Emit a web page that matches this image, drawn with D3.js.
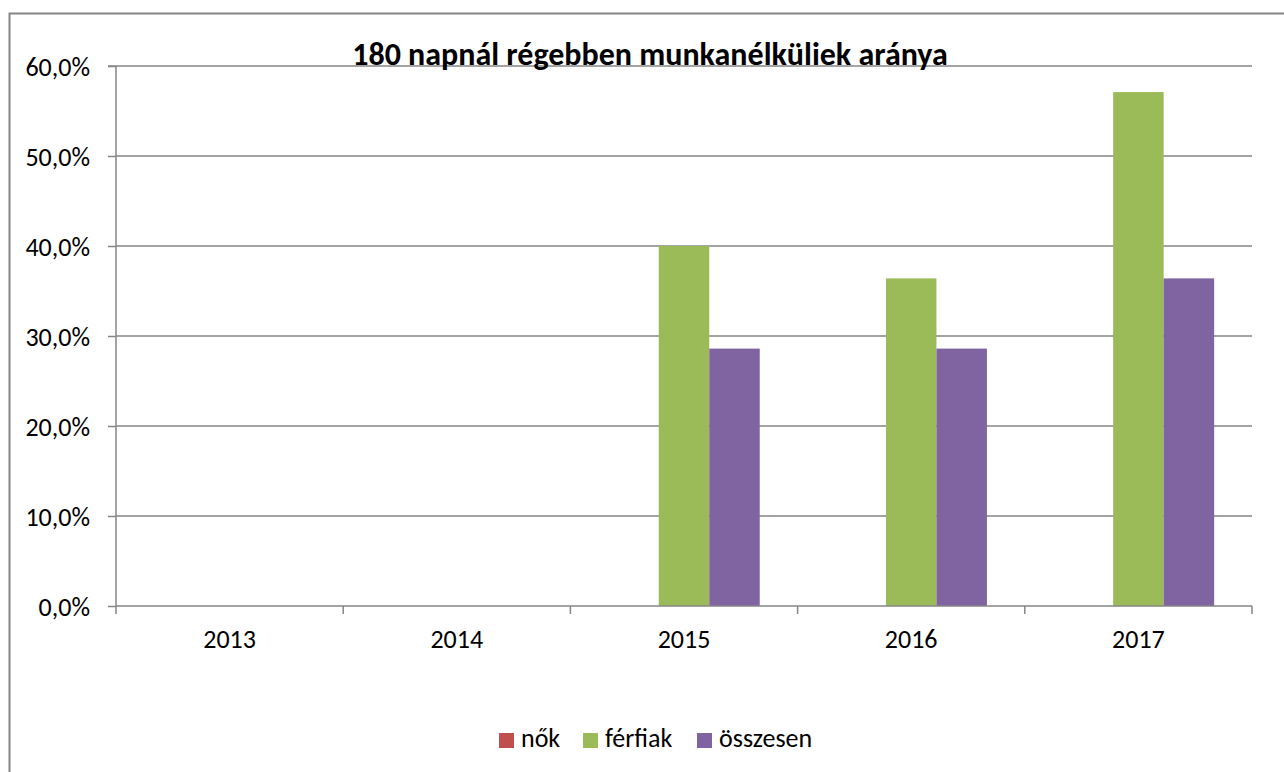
<!DOCTYPE html>
<html>
<head>
<meta charset="utf-8">
<script src="https://cdn.jsdelivr.net/npm/d3@7"></script>
<style>
  body { margin: 0; background: #fff; }
  text { font-family: Carlito, "Open Sans", "Liberation Sans", sans-serif; }
</style>
</head>
<body>
<script>
// chart data
const years = ["2013", "2014", "2015", "2016", "2017"];
const seriesNames = ["nők", "férfiak", "összesen"];
const nok = [0, 0, 0, 0, 0];
const ferfiak = [0, 0, 0.400, 0.364, 0.571];
const osszesen = [0, 0, 0.286, 0.286, 0.364];
const yTicks = [0, 0.1, 0.2, 0.3, 0.4, 0.5, 0.6];
const colors = ["#c0504d", "#9bbb59", "#8064a2"];
const title = "180 napnál régebben munkanélküliek aránya";

let width = 1284,
  height = 772;

let margin = { left: 116, right: 32, top: 66, bottom: 166 };
let fontStack = "Carlito, 'Open Sans', 'Liberation Sans', sans-serif";

window.onload = function () {
  let svg = d3.select("body")
    .append("svg")
    .attr("width", width)
    .attr("height", height);

  // outer chart border
  svg.append("rect")
    .attr("x", 9.5)
    .attr("y", 13.5)
    .attr("width", 1290)
    .attr("height", 780)
    .attr("fill", "none")
    .attr("stroke", "#868686")
    .attr("stroke-width", 2);

  let x = d3.scaleBand()
    .domain(years)
    .range([margin.left, width - margin.right]);

  // 150% gap width, like the spreadsheet default
  let x1 = d3.scaleBand()
    .domain(seriesNames)
    .range([0, x.bandwidth()])
    .paddingInner(0)
    .paddingOuter(0.75);

  let y = d3.scaleLinear()
    .domain([0, 0.6])
    .range([height - margin.bottom, margin.top]);

  // gridlines
  svg.append("g")
    .selectAll("line")
    .data(yTicks.slice(1))
    .join("line")
    .attr("x1", margin.left)
    .attr("x2", width - margin.right)
    .attr("y1", d => y(d))
    .attr("y2", d => y(d))
    .attr("stroke", "#868686")
    .attr("stroke-width", 1.5);

  // bars
  let table = years.map((yr, i) => ({ year: yr, values: [nok[i], ferfiak[i], osszesen[i]] }));
  svg.append("g")
    .selectAll("g")
    .data(table)
    .join("g")
    .attr("transform", d => `translate(${x(d.year)},0)`)
    .selectAll("rect")
    .data(d => d.values.map((v, j) => ({ key: seriesNames[j], value: v, color: colors[j] })))
    .join("rect")
    .attr("x", d => x1(d.key))
    .attr("width", x1.bandwidth())
    .attr("y", d => y(d.value))
    .attr("height", d => y(0) - y(d.value))
    .attr("fill", d => d.color);

  // y axis
  let fmt = d => d3.format(".1f")(d * 100).replace(".", ",") + "%";
  let yAxis = svg.append("g")
    .attr("transform", `translate(${margin.left},0)`)
    .call(d3.axisLeft(y).tickValues(yTicks).tickFormat(fmt).tickSize(8).tickPadding(18));
  yAxis.selectAll("line, path").attr("stroke", "#868686").attr("stroke-width", 1.5);
  yAxis.selectAll("text").attr("font-size", 26).attr("fill", "#000").attr("dy", "0.35em")
    .style("font-family", fontStack);
  yAxis.select(".domain").attr("d", `M-8,${y(0.6)}H0V${y(0)}`);

  // x axis
  let xAxis = svg.append("g")
    .attr("transform", `translate(0,${y(0)})`)
    .call(d3.axisBottom(x).tickSize(0).tickPadding(24));
  xAxis.select(".domain").attr("stroke", "#868686").attr("stroke-width", 1.5)
    .attr("d", `M${margin.left},0H${width - margin.right}`);
  xAxis.selectAll("text").attr("font-size", 26).attr("fill", "#000")
    .style("font-family", fontStack);
  // category separators
  xAxis.append("g")
    .selectAll("line")
    .data(years.map(d => x(d)).concat([x(years[years.length - 1]) + x.bandwidth()]))
    .join("line")
    .attr("x1", d => d)
    .attr("x2", d => d)
    .attr("y1", 0)
    .attr("y2", 8)
    .attr("stroke", "#868686")
    .attr("stroke-width", 1.5);

  // title
  svg.append("text")
    .attr("x", 650)
    .attr("y", 65)
    .attr("text-anchor", "middle")
    .attr("font-size", 32)
    .attr("font-weight", "bold")
    .text(title);

  // legend
  let legendX = [499, 583, 697];
  let legend = svg.append("g")
    .selectAll("g")
    .data(seriesNames)
    .join("g")
    .attr("transform", (d, i) => `translate(${legendX[i]},733)`);
  legend.append("rect")
    .attr("width", 15)
    .attr("height", 15)
    .attr("fill", (d, i) => colors[i]);
  legend.append("text")
    .attr("x", 22)
    .attr("y", 14)
    .attr("font-size", 26)
    .text(d => d);
}
</script>
</body>
</html>
